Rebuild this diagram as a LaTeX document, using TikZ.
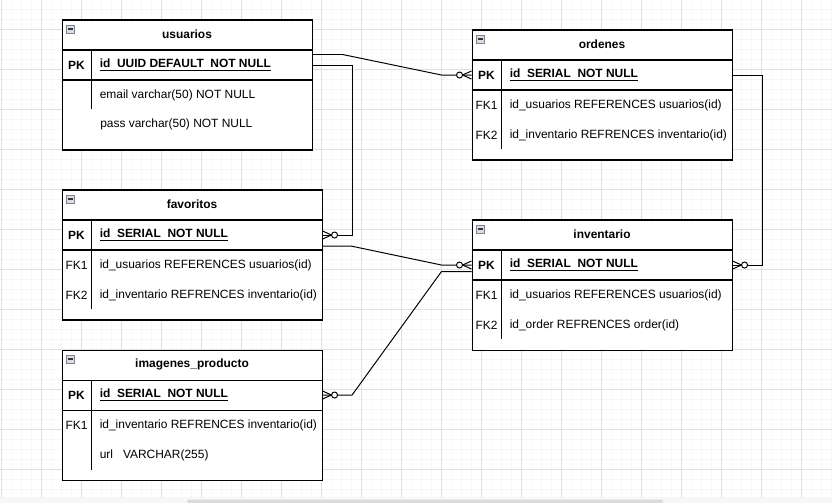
\documentclass[tikz,border=0pt]{standalone}
\usepackage{fontspec}
\setmainfont{Liberation Sans}
\usetikzlibrary{calc}
\definecolor{iconfill}{HTML}{D9DDE6}
\definecolor{iconline}{HTML}{7D828C}
\def\px{0.025cm}
\def\erfont{\fontsize{8.5}{10}\selectfont}
\def\entity(#1)(#2)(#3:#4){%
	\node[tblbox, minimum width=#3*\px] (#1) at (#2) {};
	\node[pkrow, minimum width=#3*\px] (#1PK) at ($(#1.north west)+(0,30)$) {};
	\node[titletext] (#1T) at ($(#1.north)+(0,15)$) {#4};
	\pic at (#1.north west) {collapse};
}
\tikzset{
	tblbox/.style={draw, line width=0.75pt, fill=white, inner sep=0, anchor=north west, minimum height=130*\px},
	pkrow/.style={draw, line width=0.75pt, inner sep=0, anchor=north west, minimum height=30*\px},
	titletext/.style={font=\erfont\bfseries, inner sep=0},
	keytext/.style={inner sep=0},
	pktext/.style={font=\erfont\bfseries, inner sep=0},
	fieldtext/.style={anchor=west, inner sep=0},
	rel/.style={line width=0.7pt},
	minorgrid/.style={black!3, line width=0.5pt},
	majorgrid/.style={black!12, line width=0.6pt},
	collapse/.pic={
		\draw[draw=iconline, fill=iconfill, line width=0.4pt] (5,5.5) rectangle (13,13.5);
		\draw[line width=0.8pt, black!80] (6.8,9.5) -- (11.2,9.5);
	},
	zmany/.pic={
		\draw[rel] (0,-4) -- (9,0) -- (0,4);
		\draw[rel, fill=white] (12,0) circle (3);
	}
}

\begin{document}
\begin{tikzpicture}[x=0.025cm, y=-0.025cm, font=\erfont]
			%%%%% START %%%%%
			\useasboundingbox (0,0) rectangle (832,503);
			
			% grid
			\foreach \gx in {1,11,...,831} \draw[minorgrid] (\gx,0) -- (\gx,497);
			\foreach \gy in {9,19,...,489} \draw[minorgrid] (0,\gy) -- (832,\gy);
			\foreach \gx in {1,41,...,801} \draw[majorgrid] (\gx,0) -- (\gx,497);
			\foreach \gy in {29,69,...,469} \draw[majorgrid] (0,\gy) -- (832,\gy);
			\fill[black!3] (0,497) rectangle (832,503);
			\fill[black!14, rounded corners=1pt] (187,499.5) rectangle (663,503);
			
			% usuarios
			\entity(usuarios)(61.5,19.5)(250:usuarios)
			\draw[line width=0.75pt] ($(usuariosPK.north west)+(30,0)$) -- ++(0,60);
			\node[pktext] (usuariosK0) at ($(usuariosPK.west)+(15,0)$) {PK};
			\node[pktext, anchor=west] (usuariosF0) at ($(usuariosPK.west)+(38,0)$) {\underline{id\ \ UUID DEFAULT\ \ NOT NULL}};
			\node[fieldtext] (usuariosF1) at ($(usuariosPK.west)+(38,30)$) {email varchar(50) NOT NULL};
			\node[fieldtext] (usuariosF2) at ($(usuariosPK.west)+(38.5,59)$) {pass varchar(50) NOT NULL};
			
			% ordenes
			\entity(ordenes)(471.5,29.5)(260:ordenes)
			\draw[line width=0.75pt] ($(ordenesPK.north west)+(30,0)$) -- ++(0,90);
			\node[pktext] (ordenesK0) at ($(ordenesPK.west)+(15,0)$) {PK};
			\node[pktext, anchor=west] (ordenesF0) at ($(ordenesPK.west)+(38,0)$) {\underline{id\ \ SERIAL\ \ NOT NULL}};
			\node[keytext] (ordenesK1) at ($(ordenesPK.west)+(15,30)$) {FK1};
			\node[fieldtext] (ordenesF1) at ($(ordenesPK.west)+(38,30)$) {id\_usuarios REFERENCES usuarios(id)};
			\node[keytext] (ordenesK2) at ($(ordenesPK.west)+(15,60)$) {FK2};
			\node[fieldtext] (ordenesF2) at ($(ordenesPK.west)+(38,60)$) {id\_inventario REFRENCES inventario(id)};
			
			% favoritos
			\entity(favoritos)(61.5,189.5)(260:favoritos)
			\draw[line width=0.75pt] ($(favoritosPK.north west)+(30,0)$) -- ++(0,90);
			\node[pktext] (favoritosK0) at ($(favoritosPK.west)+(15,0)$) {PK};
			\node[pktext, anchor=west] (favoritosF0) at ($(favoritosPK.west)+(38,0)$) {\underline{id\ \ SERIAL\ \ NOT NULL}};
			\node[keytext] (favoritosK1) at ($(favoritosPK.west)+(15,30)$) {FK1};
			\node[fieldtext] (favoritosF1) at ($(favoritosPK.west)+(38,30)$) {id\_usuarios REFERENCES usuarios(id)};
			\node[keytext] (favoritosK2) at ($(favoritosPK.west)+(15,60)$) {FK2};
			\node[fieldtext] (favoritosF2) at ($(favoritosPK.west)+(38,60)$) {id\_inventario REFRENCES inventario(id)};
			
			% inventario
			\entity(inventario)(471.5,219.5)(260:inventario)
			\draw[line width=0.75pt] ($(inventarioPK.north west)+(30,0)$) -- ++(0,90);
			\node[pktext] (inventarioK0) at ($(inventarioPK.west)+(15,0)$) {PK};
			\node[pktext, anchor=west] (inventarioF0) at ($(inventarioPK.west)+(38,0)$) {\underline{id\ \ SERIAL\ \ NOT NULL}};
			\node[keytext] (inventarioK1) at ($(inventarioPK.west)+(15,30)$) {FK1};
			\node[fieldtext] (inventarioF1) at ($(inventarioPK.west)+(38,30)$) {id\_usuarios REFERENCES usuarios(id)};
			\node[keytext] (inventarioK2) at ($(inventarioPK.west)+(15,60)$) {FK2};
			\node[fieldtext] (inventarioF2) at ($(inventarioPK.west)+(38,60)$) {id\_order REFRENCES order(id)};
			
			% imagenes_producto
			\entity(imagenes)(61.5,349.5)(260:imagenes\_producto)
			\draw[line width=0.75pt] ($(imagenesPK.north west)+(30,0)$) -- ++(0,90);
			\node[pktext] (imagenesK0) at ($(imagenesPK.west)+(15,0)$) {PK};
			\node[pktext, anchor=west] (imagenesF0) at ($(imagenesPK.west)+(38,0)$) {\underline{id\ \ SERIAL\ \ NOT NULL}};
			\node[keytext] (imagenesK1) at ($(imagenesPK.west)+(15,30)$) {FK1};
			\node[fieldtext] (imagenesF1) at ($(imagenesPK.west)+(38,30)$) {id\_inventario REFRENCES inventario(id)};
			\node[fieldtext] (imagenesF2) at ($(imagenesPK.west)+(38,60)$) {url\ \ \ VARCHAR(255)};
			
			% relations
			\draw[rel] ($(usuariosPK.north east)+(0,5)$) -- ++(30,0) -- ($(ordenesPK.west)+(-30,0)$) -- (ordenesPK.west);
			\draw[rel] (usuariosPK.east) -- ++(39.5,0) |- (favoritosPK.east);
			\draw[rel] ($(favoritosPK.south east)+(0,-4.5)$) -- ++(28.5,0) -- ($(inventarioPK.west)+(-30,0)$) -- (inventarioPK.west);
			\draw[rel] ($(inventarioPK.west)+(0,6.5)$) -- ++(-30,0) -- ($(imagenesPK.east)+(29.5,0)$) -- (imagenesPK.east);
			\draw[rel] (ordenesPK.east) -- ++(29.5,0) |- (inventarioPK.east);
			
			\pic[rotate=180] at (ordenesPK.west) {zmany};
			\pic at (favoritosPK.east) {zmany};
			\pic[rotate=180] at (inventarioPK.west) {zmany};
			\pic at (imagenesPK.east) {zmany};
			\pic at (inventarioPK.east) {zmany};
			
			%%%%% END %%%%%
\end{tikzpicture}
\end{document}
